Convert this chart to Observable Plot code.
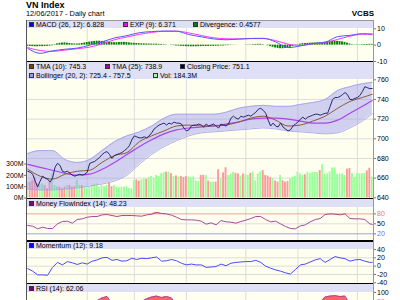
<!DOCTYPE html>
<html><head><meta charset="utf-8">
<script src="https://cdn.jsdelivr.net/npm/d3@7"></script>
<script src="https://cdn.jsdelivr.net/npm/@observablehq/plot@0.6"></script>
<style>
html,body{margin:0;padding:0;background:#fff;overflow:hidden;}
#c{position:relative;width:400px;height:300px;overflow:hidden;font-family:"Liberation Sans",Arial,Helvetica,sans-serif;color:#000;}
#c svg{position:absolute;left:0;overflow:visible;}
#c .abs{position:absolute;white-space:nowrap;line-height:1;}
</style></head>
<body><div id="c"></div>
<script>
// ---------- DATA ----------
const N = 140; // trading days shown
const close = [667,666,664,657,651,657,662,660,659,656,
660,671,675,673,667,666,667,665,663,662,
663,664,663,664,666,675,676,677,679,681,
684,686,687,684,680,683,684,685,686,688,
690,693,699,703,702,701,701,702,701,703,
706,710,712,714,715,716,714,716,715,717,
716,716,715,711,708,709,713,714,714,715,
714,712,715,713,714,715,713,711,715,714,
713,715,721,723,721,720,723,722,723,724,
723,725,727,730,731,729,726,719,713,716,
713,712,716,712,710,708,709,713,715,717,
720,722,720,722,723,724,725,725,724,725,
726,726,733,740,742,742,743,745,747,745,
740,740,741,742,744,748,753,752,751,751.1];
const volume = [140,140,154,184,125,118,125,110,81,140,
213,110,100,95,81,95,105,110,95,100,
160,110,110,100,90,100,110,120,125,95,
110,100,110,130,100,110,95,90,95,95,
100,85,81,155,160,150,160,170,165,180,
190,175,200,190,215,225,228,228,215,190,
195,185,190,180,190,185,180,185,150,145,
199,199,199,150,140,140,140,249,170,222,
267,199,210,226,218,213,193,213,205,199,
217,226,152,213,230,243,199,193,180,170,
150,140,199,152,140,146,170,184,190,226,
213,199,205,226,217,226,226,226,243,293,
207,213,230,266,266,207,210,213,199,255,
261,217,181,217,215,213,217,240,263,184.3];
const divergence = [-0.7,-0.8,-0.9,-1.0,-1.0,-0.9,-0.9,-0.8,-0.7,-0.6,
-0.4,0.3,0.8,1.1,1.3,1.4,1.2,1.0,0.8,0.7,
0.7,0.8,1.0,1.3,1.6,1.9,2.1,2.3,2.4,2.4,
2.3,2.1,1.9,1.7,1.6,1.5,1.5,1.6,1.7,1.7,
1.6,1.4,1.2,1.1,1.0,0.9,0.8,0.8,0.7,0.7,
0.6,0.6,0.6,0.5,0.4,0.3,0.2,0.0,-0.2,-0.3,
-0.5,-0.6,-0.7,-0.8,-0.9,-1.0,-1.0,-1.0,-1.0,-0.9,
-0.9,-0.8,-0.8,-0.8,-0.7,-0.7,-0.7,-0.6,-0.5,-0.5,
-0.4,-0.3,-0.2,-0.1,-0.1,0.0,0.0,0.0,0.1,0.2,
0.2,0.3,0.4,0.5,0.5,0.3,0.0,-0.4,-0.9,-1.3,
-1.7,-2.0,-2.2,-2.2,-2.0,-1.7,-1.3,-0.8,-0.3,0.2,
0.6,0.9,1.0,1.1,1.2,1.3,1.3,1.4,1.5,1.6,
1.8,2.0,2.2,2.4,2.4,2.3,2.2,2.0,1.7,1.2,
0.7,0.3,0.2,0.2,0.2,0.3,0.4,0.4,0.5,0.4577];
// smooth indicators, read every 5th day (and the last day)
const tma10 = [669,662,659,664,667,668,676,683,686,697,703,708,713,714,713,713,714,717,721,723,719,713,714,718,723,731,738,742,745.3];
const tma25 = [674,671,668,665,663,664,669,676,684,692,699,705,709,711,712,713,715,717,720,721,721,720,718,716,716,719,726,733,738.9];
const bollUpper = [685,688,688,679,676,679,688,697,703,707,713,721,725,725,725,725,727,731,733,734,733,733,735,737,740,749,753,756,757.5];
const bollLower = [649,648,648,649,650,652,654,657,663,674,684,692,698,703,706,707,708,709,710,711,710,708,707,706,705,706,711,718,725.4];
const macd = [-2.0,-5.0,-3.5,-2.5,-1.8,0.0,2.0,4.4,5.8,7.6,8.3,8.6,8.5,6.5,5.1,3.8,3.3,3.7,4.1,4.2,2.0,-1.5,-0.5,1.0,1.8,5.2,6.0,7.0,6.828];
const expSignal = [-1.5,-3.3,-3.8,-3.0,-2.2,-1.2,0.8,3.3,5.0,6.6,7.8,8.5,8.6,7.5,5.9,4.5,3.9,3.8,4.0,4.0,2.8,0.6,-0.2,0.8,1.6,3.5,5.5,6.7,6.371];
// oscillators, read every 2nd day (and the last day)
const mfi = [45,43,35,40,36,36,50,57,58,52,
63,65,70,72,72,77,78,75,72,75,
75,75,74,73,77,79,84,81,80,76,
70,63,62,62,61,58,49,53,47,60,
56,55,52,57,61,66,72,72,63,56,
58,50,42,36,35,44,47,56,63,66,
78,80,79,77,80,66,65,65,63,50,48.23];
const momentum = [-6,-12,-21,-21,-22,-3,9,3,11,8,
4,8,5,12,15,20,21,14,16,12,
13,19,16,19,18,20,22,12,13,16,
13,7,3,5,3,3,-3,-2,-1,5,
1,7,9,10,11,11,14,9,0,-5,
-9,-12,-16,-19,-8,3,5,10,15,18,
9,16,23,20,18,12,15,16,12,9,9.18];
const rsi = [45,40,36,38,36,44,58,55,60,56,
60,62,60,70,82,88,91,76,72,70,
74,78,76,80,86,90,92,89,91,88,
72,62,58,55,56,52,48,45,50,48,
52,55,58,60,62,65,68,62,55,50,
46,42,40,38,44,48,55,60,64,78,
90,92,93,91,92,75,68,70,72,66,62.06];
const monthStarts = [24, 43, 64, 88, 109, 133];
const priceTicks = [640, 660, 680, 700, 720, 740, 760];
const volTicks = [0, 100, 200, 300];
const macdTicks = [-10, 0, 10];
const momTicks = [-40, -20, 0, 20, 40];

// ---------- TABLES ----------
const days = d3.range(N);
const smoothDays = [...d3.range(0, N, 5), N - 1];
const evenDays = [...d3.range(0, N, 2), N - 1];
const daily = days.map(i => ({i, close: close[i], vol: volume[i], div: divergence[i], up: i === 0 || close[i] >= close[i - 1]}));
const smooth = smoothDays.map((i, k) => ({i, t10: tma10[k], t25: tma25[k], hi: bollUpper[k], lo: bollLower[k], macd: macd[k], exp: expSignal[k]}));
const osc = evenDays.map((i, k) => ({i, mfi: mfi[k], mom: momentum[k], rsi: rsi[k]}));

// ---------- STYLE ----------
const FONT = '"Liberation Sans", Arial, Helvetica, sans-serif';
const BG = "#fffff0", GRID = "#dcdcdc", STRIP = "#dfdff6";
const root = document.getElementById("c");
const bx = {x1: d => d.i - 0.38, x2: d => d.i + 0.38};
const axR = (ticks, extra = {}) => Plot.axisY(ticks, {anchor: "right", label: null, tickSize: 2, tickPadding: 1.5, tickFormat: d => String(d), fontSize: 7, stroke: "#777", ...extra});

function div(css, text) {
  const e = document.createElement("div");
  e.className = "abs";
  Object.assign(e.style, css);
  if (text !== undefined) e.textContent = text;
  root.appendChild(e);
  return e;
}
function addPlot(top, height, mt, mb, yDomain, marks) {
  const svg = Plot.plot({
    width: 400, height, marginLeft: 26, marginRight: 27, marginTop: mt, marginBottom: mb,
    x: {domain: [-0.5, N - 0.5], axis: null, label: null},
    y: {domain: yDomain, axis: null, label: null},
    style: {fontFamily: FONT, fontSize: "7px", overflow: "visible"},
    marks
  });
  svg.style.top = top + "px";
  root.appendChild(svg);
}
function legend(x, baseline, color, text) {
  div({left: x + "px", top: (baseline - 5) + "px", width: "3px", height: "3px", border: "1px solid #333", background: color});
  div({left: (x + 7) + "px", top: (baseline - 0.8465 * 7) + "px", fontSize: "7px"}, text);
}

// ---------- TITLES ----------
div({left: "26px", top: "0.6px", fontSize: "9px", fontWeight: "bold"}, "VN Index");
div({left: "26px", top: "10.4px", fontSize: "7.4px"}, "12/06/2017 - Daily chart");
div({right: "26px", top: "9.9px", fontSize: "8px", fontWeight: "bold"}, "VCBS");

// ---------- STRIPS ----------
for (const [t, h] of [[20.5, 7.8], [62, 17.3], [199, 7.7], [241.7, 7.3], [283.9, 8.1]])
  div({left: "26px", top: t + "px", width: "347px", height: h + "px", background: STRIP});

// ---------- MACD PANEL ----------
addPlot(20, 42, 8.3, 1, [-10, 10], [
  Plot.frame({fill: BG, stroke: "none"}),
  Plot.ruleX(monthStarts, {stroke: GRID}),
  Plot.rectY(daily, {...bx, y: "div", fill: "#008000"}),
  Plot.line(smooth, {x: "i", y: "exp", stroke: "#ff33ff", strokeWidth: 1, curve: "monotone-x"}),
  Plot.line(smooth, {x: "i", y: "macd", stroke: "#5555ff", strokeWidth: 1, curve: "monotone-x"}),
  axR(macdTicks)
]);

// ---------- PRICE PANEL (3 layers) ----------
addPlot(61, 137, 18.3, 0.7, [640, 760], [
  Plot.frame({fill: BG, stroke: "none"}),
  Plot.ruleY(priceTicks.slice(1, -1), {stroke: GRID}),
  Plot.ruleX(monthStarts, {stroke: GRID}),
  axR(priceTicks)
]);
addPlot(61, 137, 102.5, 0.5, [0, 300], [
  Plot.rectY(daily, {filter: d => d.up, ...bx, y: "vol", fill: "#99ff99"}),
  Plot.rectY(daily, {filter: d => !d.up, ...bx, y: "vol", fill: "#ff9999"}),
  Plot.axisY(volTicks, {anchor: "left", label: null, tickSize: 2, tickPadding: 1, tickFormat: d => d + "M", fontSize: 7, stroke: "#777"})
]);
addPlot(61, 137, 18.3, 0.7, [640, 760], [
  Plot.areaY(smooth, {x: "i", y1: "lo", y2: "hi", fill: "#9999ee", fillOpacity: 0.45, curve: "monotone-x"}),
  Plot.line(smooth, {x: "i", y: "hi", stroke: "#9c9cec", strokeWidth: 0.8, curve: "monotone-x"}),
  Plot.line(smooth, {x: "i", y: "lo", stroke: "#9c9cec", strokeWidth: 0.8, curve: "monotone-x"}),
  Plot.line(smooth, {x: "i", y: "t25", stroke: "#aa44ee", strokeWidth: 1.2, curve: "monotone-x"}),
  Plot.line(smooth, {x: "i", y: "t10", stroke: "#8b5a3a", strokeWidth: 1, curve: "monotone-x"}),
  Plot.line(daily, {x: "i", y: "close", stroke: "#262670", strokeWidth: 1})
]);

// ---------- MFI PANEL ----------
addPlot(198, 43, 8.7, 1, [0, 100], [
  Plot.frame({fill: BG, stroke: "none"}),
  Plot.ruleX(monthStarts, {stroke: GRID}),
  Plot.ruleY([50], {stroke: GRID}),
  Plot.ruleY([80], {stroke: "#ff9a9a"}),
  Plot.ruleY([20], {stroke: "#9a9aff"}),
  Plot.areaY(osc, {x: "i", y1: 80, y2: d => Math.max(80, d.mfi), fill: "#ff5a5a"}),
  Plot.line(osc, {x: "i", y: "mfi", stroke: "#a8489f", strokeWidth: 1}),
  axR([80], {fill: "#ff7070"}),
  axR([50]),
  axR([20], {fill: "#6b6bff"})
]);

// ---------- MOMENTUM PANEL ----------
addPlot(241, 42, 8, 0.7, [-40, 40], [
  Plot.frame({fill: BG, stroke: "none"}),
  Plot.ruleX(monthStarts, {stroke: GRID}),
  Plot.ruleY([-20, 0, 20], {stroke: GRID}),
  Plot.line(osc, {x: "i", y: "mom", stroke: "#4a4aff", strokeWidth: 1}),
  axR(momTicks)
]);

// ---------- RSI PANEL ----------
addPlot(283, 60, 9, 6, [0, 100], [
  Plot.frame({fill: BG, stroke: "none"}),
  Plot.ruleX(monthStarts, {stroke: GRID}),
  Plot.areaY(osc, {x: "i", y1: 70, y2: d => Math.max(70, d.rsi), fill: "#ff6464"}),
  Plot.line(osc, {x: "i", y: "rsi", stroke: "#a8489f", strokeWidth: 1}),
  axR([100]),
  axR([80], {fill: "#ff7070"})
]);

// ---------- BORDERS / SEPARATORS ----------
div({left: "26px", top: "20px", width: "347px", height: "0.8px", background: "#999"});
for (const [t, h] of [[60.8, 1.4], [197.6, 1.5], [240.3, 1.4], [282.5, 1.4]])
  div({left: "26px", top: t + "px", width: "348px", height: h + "px", background: "#000"});
div({left: "25.6px", top: "20px", width: "1px", height: "280px", background: "#555"});
div({left: "373px", top: "20px", width: "0.8px", height: "280px", background: "#999"});

// ---------- LEGENDS ----------
const last = a => a[a.length - 1];
legend(29, 26.7, "#0000ff", `MACD (26, 12): ${last(macd)}`);
legend(123, 26.7, "#ff00ff", `EXP (9): ${last(expSignal)}`);
legend(193, 26.7, "#008000", `Divergence: ${last(divergence)}`);
legend(29, 69.3, "#804000", `TMA (10): ${last(tma10)}`);
legend(105, 69.3, "#9900cc", `TMA (25): ${last(tma25)}`);
legend(180, 69.3, "#000040", `Closing Price: ${last(close)}`);
legend(29, 78.3, "#9999ee", `Bollinger (20, 2): ${last(bollLower)} - ${last(bollUpper)}`);
legend(153, 78.3, "#99ff99", `Vol: ${last(volume)}M`);
legend(29, 206, "#800080", `Money FlowIndex (14): ${last(mfi)}`);
legend(29, 248, "#0000ff", `Momentum (12): ${last(momentum)}`);
legend(29, 291, "#800080", `RSI (14): ${last(rsi)}`);
</script></body></html>
